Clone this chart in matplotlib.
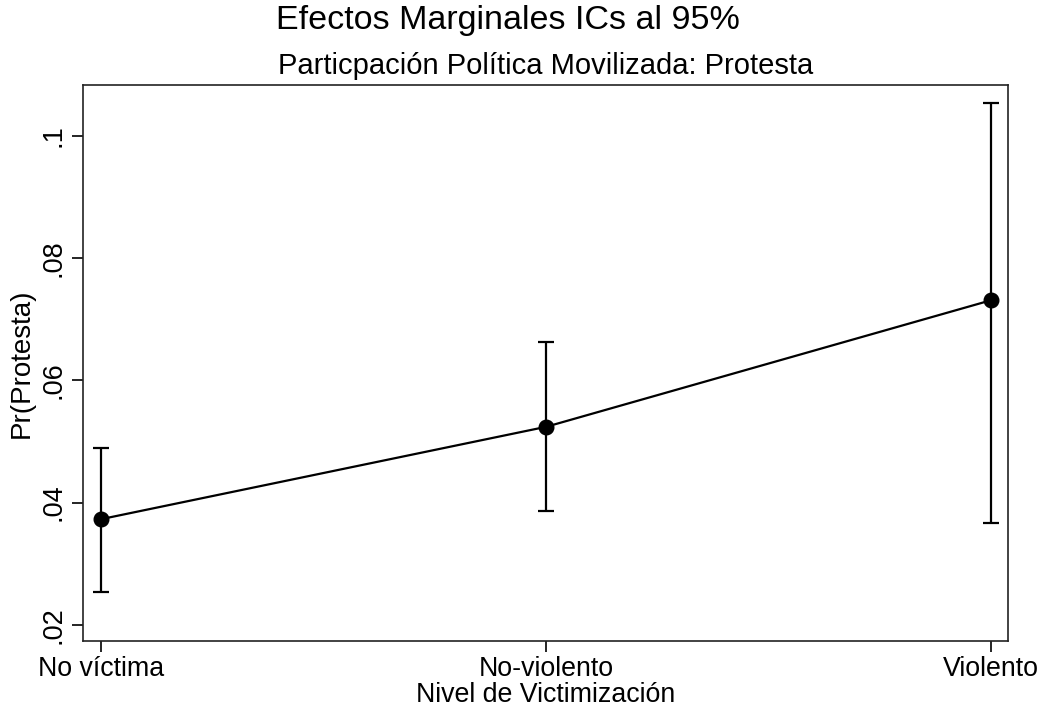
import numpy as np
import matplotlib
matplotlib.use('Agg')
import matplotlib.pyplot as plt

plt.rcParams['font.family'] = ['Liberation Sans', 'DejaVu Sans']

# data
categories = ['No víctima', 'No-violento', 'Violento']
margins = [0.0373, 0.0524, 0.0731]
ci_low = [0.0254, 0.0386, 0.0367]
ci_high = [0.0489, 0.0662, 0.1053]
ytick_vals = [0.02, 0.04, 0.06, 0.08, 0.10]
ytick_labels = ['.02', '.04', '.06', '.08', '.1']

fig = plt.figure(figsize=(10.41, 7.12), dpi=100)
ax = fig.add_axes([83/1041, 1 - 641/712, (1008 - 83)/1041, (641 - 85)/712])

x = np.arange(len(categories))
m = np.array(margins)
yerr = [m - np.array(ci_low), np.array(ci_high) - m]

ax.errorbar(x, m, yerr=yerr, fmt='none', ecolor='black', elinewidth=1.6,
            capsize=5.5, capthick=1.6, zorder=2)
ax.plot(x, m, color='black', linewidth=1.6, marker='o', markersize=10.5, zorder=3)

ax.set_xlim(-0.0404, 2.0382)
ax.set_ylim(0.01738, 0.1083)
ax.set_xticks(x)
ax.set_xticklabels(categories, fontsize=19.3)
ax.set_yticks(ytick_vals)
ax.set_yticklabels(ytick_labels, fontsize=19.5, rotation=90, va='center')
ax.tick_params(axis='both', direction='out', length=8, width=1.2, color='black')
ax.tick_params(axis='x', pad=3)
ax.tick_params(axis='y', pad=4)

for s in ax.spines.values():
    s.set_linewidth(1.2)
    s.set_color('#222222')

ax.set_xlabel('Nivel de Victimización', fontsize=19.3, labelpad=0)
ax.set_ylabel('Pr(Protesta)', fontsize=20, labelpad=4)

fig.text(508/1041, 1 - 21/712, 'Efectos Marginales ICs al 95%', fontsize=24.5,
         ha='center', va='center')
fig.text(546/1041, 1 - 66/712, 'Particpación Política Movilizada: Protesta',
         fontsize=21, ha='center', va='center')

fig.savefig('out.png', dpi=100)
